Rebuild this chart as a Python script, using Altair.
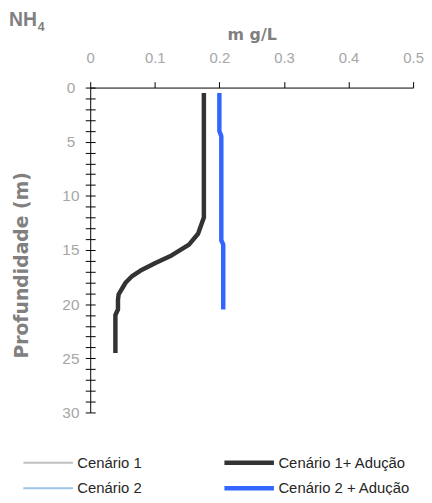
import altair as alt
import pandas as pd

series_names = ["Cenário 1", "Cenário 1+ Adução", "Cenário 2", "Cenário 2 + Adução"]
series_colors = ["#bfbfbf", "#333333", "#9dc3e6", "#3366ff"]
series_widths = [2, 4.5, 2, 4.5]

c1a_depth = [0.5, 12.0, 13.5, 14.5, 15.5, 16.2, 16.9, 17.4, 18.0, 19.1, 19.6, 20.5, 21.0, 24.5]
c1a_value = [0.176, 0.176, 0.167, 0.153, 0.126, 0.101, 0.078, 0.065, 0.055, 0.044, 0.043, 0.043, 0.039, 0.039]

c2a_depth = [0.5, 4.0, 4.5, 14.1, 14.5, 20.5]
c2a_value = [0.200, 0.200, 0.203, 0.203, 0.206, 0.206]

x_ticks = [0, 0.1, 0.2, 0.3, 0.4, 0.5]
y_ticks = list(range(0, 31))

rows = []
for i, (d, v) in enumerate(zip(c1a_depth, c1a_value)):
    rows.append({"series": series_names[1], "depth": d, "value": v, "idx": i})
for i, (d, v) in enumerate(zip(c2a_depth, c2a_value)):
    rows.append({"series": series_names[3], "depth": d, "value": v, "idx": i})
df = pd.DataFrame(rows)

FONT = "Liberation Sans"
TFONT = "DejaVu Sans"
GRAY_T = "#808080"
GRAY_L = "#a6a6a6"

x_enc = alt.X(
    "value:Q",
    scale=alt.Scale(domain=[0, 0.5], nice=False, zero=False),
    axis=alt.Axis(
        orient="top", values=x_ticks, format="~g", title="m g/L",
        titleFont=TFONT, titleFontSize=16, titleFontWeight="bold", titleColor=GRAY_T,
        titleY=-54, titleBaseline="middle",
        labelFont=FONT, labelFontSize=15, labelColor=GRAY_L, labelPadding=16, labelFlush=False,
        tickSize=6, tickColor="black", domainColor="black", grid=False,
    ),
)

y_scale = alt.Scale(domain=[0, 30], reverse=True, nice=False, zero=False)

leg = alt.Legend(
    title=None, orient="none", legendX=-70, legendY=371, columns=2, direction="horizontal",
    symbolType="stroke", symbolSize=2500, clipHeight=15, columnPadding=80, rowPadding=10,
    labelFont=FONT, labelFontSize=15, labelColor="#262626", labelOffset=2,
    symbolOpacity=1,
)

lines = alt.Chart(df).mark_line(strokeCap="butt", strokeJoin="round").encode(
    x=x_enc,
    y=alt.Y(
        "depth:Q", scale=y_scale,
        axis=alt.Axis(
            orient="left", values=y_ticks, labelExpr="datum.value % 5 === 0 ? datum.label : ''",
            title="Profundidade (m)", titleFont=TFONT, titleFontSize=19, titleFontWeight="bold",
            titleColor=GRAY_T, titleX=-69, titleY=179, titleAlign="center", titleBaseline="middle",
            labelFont=FONT, labelFontSize=15.5, labelColor=GRAY_L, labelPadding=15, labelAlign="center",
            labelFlush=False,
            tickSize=5, tickColor="black", domainColor="black", grid=False,
        ),
    ),
    order=alt.Order("idx:Q"),
    color=alt.Color(
        "series:N",
        scale=alt.Scale(domain=series_names, range=series_colors),
        legend=leg,
    ),
    strokeWidth=alt.StrokeWidth(
        "series:N",
        scale=alt.Scale(type="ordinal", domain=series_names, range=series_widths),
        legend=leg,
    ),
)

inner_ticks = alt.Chart(df).mark_point(opacity=0).encode(
    x=alt.X("value:Q"),
    y=alt.Y(
        "depth:Q", scale=y_scale,
        axis=alt.Axis(
            orient="left", values=y_ticks, offset=-5, tickSize=5, tickColor="black",
            labels=False, domain=False, title=None, grid=False,
        ),
    ),
)

title_df = pd.DataFrame({"t": ["NH"], "s": ["4"]})
nh = alt.Chart(title_df).mark_text(
    font=FONT, fontSize=19.5, fontWeight="bold", color=GRAY_T, align="left", baseline="alphabetic"
).encode(text="t:N", x=alt.value(-82), y=alt.value(-62))
sub = alt.Chart(title_df).mark_text(
    font=FONT, fontSize=12.5, fontWeight="bold", color=GRAY_T, align="left", baseline="alphabetic"
).encode(text="s:N", x=alt.value(-53), y=alt.value(-57))

chart = alt.layer(lines, inner_ticks, nh, sub).resolve_axis(y="independent").properties(
    width=326, height=328,
    autosize=alt.AutoSizeParams(type="none"),
    padding={"left": 83, "top": 78, "right": 11, "bottom": 81},
).configure_view(stroke=None)

chart.save("out.html", embed_options={"renderer": "svg", "actions": False})
